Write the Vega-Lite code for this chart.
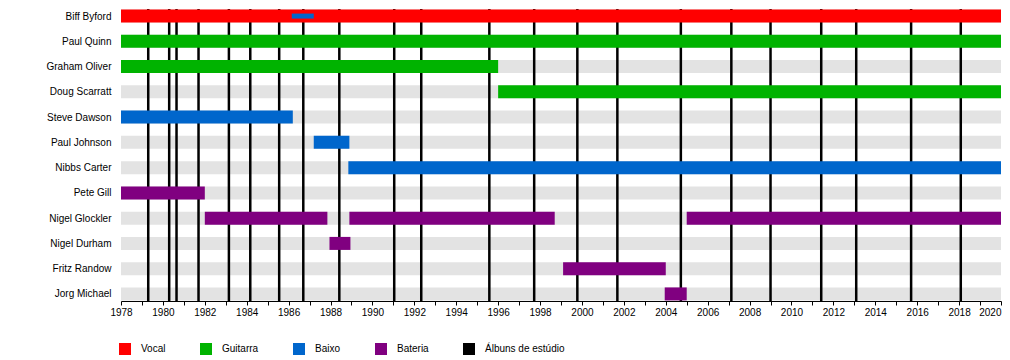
{
  "$schema": "https://vega.github.io/schema/vega-lite/v6.json",
  "width": 880,
  "height": 292,
  "autosize": {"type": "none"},
  "padding": {"left": 121, "top": 9, "right": 9, "bottom": 59},
  "background": "white",
  "config": {
    "view": {"stroke": null},
    "font": "Liberation Sans",
    "axis": {"labelFont": "Liberation Sans", "labelFontSize": 10, "labelColor": "black", "grid": false},
    "legend": {"labelFont": "Liberation Sans", "labelFontSize": 10, "labelColor": "black"}
  },
  "datasets": {
    "members": [
      {"name": "Biff Byford"},
      {"name": "Paul Quinn"},
      {"name": "Graham Oliver"},
      {"name": "Doug Scarratt"},
      {"name": "Steve Dawson"},
      {"name": "Paul Johnson"},
      {"name": "Nibbs Carter"},
      {"name": "Pete Gill"},
      {"name": "Nigel Glockler"},
      {"name": "Nigel Durham"},
      {"name": "Fritz Randow"},
      {"name": "Jorg Michael"}
    ],
    "periods": [
      {"name": "Biff Byford", "role": "Vocal", "start": 1978, "end": 2020},
      {"name": "Paul Quinn", "role": "Guitarra", "start": 1978, "end": 2020},
      {"name": "Graham Oliver", "role": "Guitarra", "start": 1978, "end": 1996},
      {"name": "Doug Scarratt", "role": "Guitarra", "start": 1996, "end": 2020},
      {"name": "Steve Dawson", "role": "Baixo", "start": 1978, "end": 1986.2},
      {"name": "Paul Johnson", "role": "Baixo", "start": 1987.2, "end": 1988.9},
      {"name": "Nibbs Carter", "role": "Baixo", "start": 1988.85, "end": 2020},
      {"name": "Pete Gill", "role": "Bateria", "start": 1978, "end": 1982},
      {"name": "Nigel Glockler", "role": "Bateria", "start": 1982, "end": 1987.85},
      {"name": "Nigel Glockler", "role": "Bateria", "start": 1988.9, "end": 1998.7},
      {"name": "Nigel Glockler", "role": "Bateria", "start": 2005, "end": 2020},
      {"name": "Nigel Durham", "role": "Bateria", "start": 1987.95, "end": 1988.95},
      {"name": "Fritz Randow", "role": "Bateria", "start": 1999.1, "end": 2004},
      {"name": "Jorg Michael", "role": "Bateria", "start": 2003.95, "end": 2005}
    ],
    "extra": [
      {"name": "Biff Byford", "role": "Baixo", "start": 1986.15, "end": 1987.2}
    ],
    "albums": [
      {"album": "Saxon", "year": 1979.3},
      {"album": "Wheels of Steel", "year": 1980.3},
      {"album": "Strong Arm of the Law", "year": 1980.65},
      {"album": "Denim and Leather", "year": 1981.7},
      {"album": "Power & the Glory", "year": 1983.15},
      {"album": "Crusader", "year": 1984.17},
      {"album": "Innocence Is No Excuse", "year": 1985.55},
      {"album": "Rock the Nations", "year": 1986.7},
      {"album": "Destiny", "year": 1988.42},
      {"album": "Solid Ball of Rock", "year": 1991.04},
      {"album": "Forever Free", "year": 1992.33},
      {"album": "Dogs of War", "year": 1995.58},
      {"album": "Unleash the Beast", "year": 1997.72},
      {"album": "Metalhead", "year": 1999.78},
      {"album": "Killing Ground", "year": 2001.69},
      {"album": "Lionheart", "year": 2004.72},
      {"album": "The Inner Sanctum", "year": 2007.13},
      {"album": "Into the Labyrinth", "year": 2009.0},
      {"album": "Call to Arms", "year": 2011.42},
      {"album": "Sacrifice", "year": 2013.09},
      {"album": "Battering Ram", "year": 2015.71},
      {"album": "Thunderbolt", "year": 2018.08}
    ]
  },
  "encoding": {
    "y": {
      "field": "name",
      "type": "nominal",
      "sort": null,
      "scale": {
        "type": "point",
        "padding": 0.28,
        "domain": ["Biff Byford", "Paul Quinn", "Graham Oliver", "Doug Scarratt", "Steve Dawson", "Paul Johnson", "Nibbs Carter", "Pete Gill", "Nigel Glockler", "Nigel Durham", "Fritz Randow", "Jorg Michael"]
      },
      "axis": {"title": null, "domain": false, "ticks": false, "labelPadding": 10}
    }
  },
  "layer": [
    {
      "data": {"name": "members"},
      "mark": {"type": "bar", "size": 13, "color": "#e3e3e3"},
      "encoding": {
        "x": {"datum": 1978, "type": "quantitative"},
        "x2": {"datum": 2020}
      }
    },
    {
      "data": {"name": "albums"},
      "mark": {"type": "rule", "color": "black", "strokeWidth": 2.5},
      "encoding": {
        "x": {"field": "year", "type": "quantitative"},
        "y": null
      }
    },
    {
      "data": {"name": "periods"},
      "mark": {"type": "bar", "size": 13},
      "encoding": {
        "x": {
          "field": "start",
          "type": "quantitative",
          "scale": {"domain": [1978, 2020], "nice": false, "zero": false},
          "axis": {
            "title": null,
            "tickCount": 42,
            "format": "d",
            "labelExpr": "datum.value % 2 == 0 ? datum.label : ''",
            "labelAlign": {"condition": {"test": "datum.value >= 2020", "value": "right"}, "value": "center"},
            "domainColor": "black",
            "tickColor": "black",
            "tickSize": 4,
            "labelPadding": 2,
            "labelFlush": false,
            "labelOverlap": false
          }
        },
        "x2": {"field": "end"},
        "color": {
          "field": "role",
          "type": "nominal",
          "scale": {
            "domain": ["Vocal", "Guitarra", "Baixo", "Bateria", "Álbuns de estúdio"],
            "range": ["#ff0000", "#00b300", "#0066cc", "#800080", "#000000"]
          },
          "legend": {
            "title": null,
            "orient": "none",
            "direction": "horizontal",
            "legendX": -2,
            "legendY": 334,
            "symbolType": "square",
            "symbolSize": 144,
            "symbolStrokeWidth": 0,
            "symbolOpacity": 1,
            "labelOffset": 10,
            "columnPadding": 34
          }
        }
      }
    },
    {
      "data": {"name": "extra"},
      "mark": {"type": "bar", "size": 5},
      "encoding": {
        "x": {"field": "start", "type": "quantitative"},
        "x2": {"field": "end"},
        "color": {"field": "role", "type": "nominal"}
      }
    }
  ]
}
